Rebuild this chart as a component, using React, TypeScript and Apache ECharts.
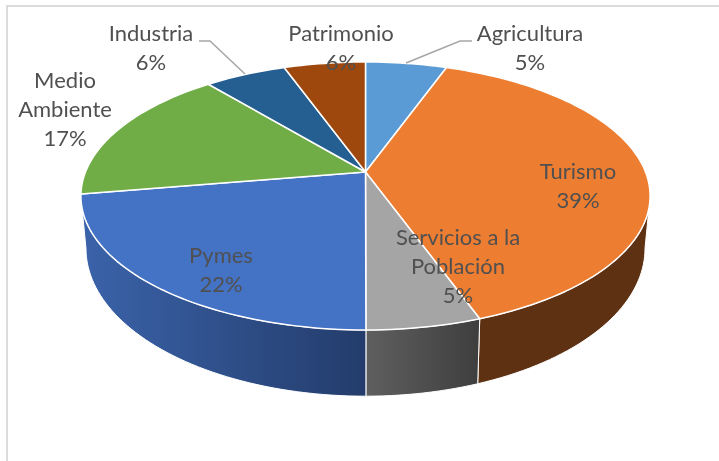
import React, { useEffect, useRef } from "react";
import * as echarts from "echarts";

const categories = ["Agricultura", "Turismo", "Servicios a la\nPoblación", "Pymes", "Medio\nAmbiente", "Industria", "Patrimonio"];
const shares = [5.49, 39.0, 5.49, 22.4, 16.6, 5.51, 5.51];
const topColors = ["#5b9bd5", "#ed7d31", "#a5a5a5", "#4472c4", "#70ad47", "#255e91", "#9e480e"];
const sideColors: (string | [string, string])[] = ["#3f6f9c", "#5e3113", ["#5f5f5f", "#3e3e3e"], ["#3b63aa", "#233c6b"], "#4a7a30", "#173d60", "#5e2b08"];
const labelCenters = [[530, 46.5], [578, 184.5], [458, 265], [221, 268.5], [65, 108.5], [151, 46.5], [341, 46.5]];
const leaderLines = [[[472, 41], [460, 41], [406, 63]], [[199, 41], [210, 41], [245, 74]]];

// Perspective projection of the pie's circular rims
const CX = 365.5;
const P = 0.179;
const topRim = { cy: 172, k: 129.7, a: 280 };
const bottomRim = { cy: 222, k: 143, a: 275 };
const WALL_START = 100.3;
const WALL_END = 259.7;

const project = (deg: number, rim: { cy: number; k: number; a: number }): number[] => {
  const t = (deg * Math.PI) / 180;
  const u = Math.sin(t);
  const v = -Math.cos(t);
  const w = 1 - P * v;
  return [CX + (rim.a * u) / w, rim.cy + (rim.k * v) / w];
};

const arc = (from: number, to: number, rim: { cy: number; k: number; a: number }) => {
  const n = Math.max(2, Math.ceil(Math.abs(to - from) / 1.5));
  const pts: number[][] = [];
  for (let i = 0; i <= n; i++) pts.push(project(from + ((to - from) * i) / n, rim));
  return pts;
};

const total = shares.reduce((a, b) => a + b, 0);
const spans: number[][] = [];
shares.reduce((acc, s) => {
  spans.push([(acc / total) * 360, ((acc + s) / total) * 360]);
  return acc + s;
}, 0);

const fillOf = (c: string | [string, string]) =>
  typeof c === "string"
    ? c
    : new echarts.graphic.LinearGradient(0, 0, 1, 0, [
        { offset: 0, color: c[0] },
        { offset: 1, color: c[1] },
      ]);

export default function App() {
  const ref = useRef<HTMLDivElement>(null);
  useEffect(() => {
    const chart = echarts.init(ref.current!, undefined, { renderer: "svg" });
    const rows = shares.map((s, i) => ({ name: categories[i], value: [s, i] }));
    chart.setOption({
      animation: false,
      backgroundColor: "#ffffff",
      graphic: [
        { type: "line", silent: true, shape: { x1: 7, y1: 6, x2: 719, y2: 6 }, style: { stroke: "#dcdcdc", lineWidth: 2 } },
        { type: "line", silent: true, shape: { x1: 7, y1: 5, x2: 7, y2: 461 }, style: { stroke: "#dcdcdc", lineWidth: 2 } },
      ],
      series: [
        {
          type: "custom",
          coordinateSystem: "none",
          silent: true,
          z: 1,
          data: rows,
          renderItem: (_p: any, api: any) => {
            const i = api.value(1);
            const from = Math.max(spans[i][0], WALL_START);
            const to = Math.min(spans[i][1], WALL_END);
            if (to <= from) return { type: "group", children: [] };
            const points = [...arc(from, to, topRim), ...arc(to, from, bottomRim)];
            return {
              type: "polygon",
              shape: { points },
              style: { fill: fillOf(sideColors[i]), stroke: "#ffffff", lineWidth: 1 },
            };
          },
        },
        {
          type: "custom",
          coordinateSystem: "none",
          silent: true,
          z: 2,
          data: rows,
          renderItem: (_p: any, api: any) => {
            const i = api.value(1);
            const points = [[CX, topRim.cy], ...arc(spans[i][0], spans[i][1], topRim)];
            return {
              type: "polygon",
              shape: { points },
              style: { fill: topColors[i], stroke: "#ffffff", lineWidth: 1.5, lineJoin: "round" },
            };
          },
        },
        {
          type: "custom",
          coordinateSystem: "none",
          silent: true,
          z: 3,
          data: leaderLines.map((_, i) => i),
          renderItem: (p: any) => ({
            type: "polyline",
            shape: { points: leaderLines[p.dataIndex] },
            style: { stroke: "#a6a6a6", lineWidth: 1.5, fill: "none" },
          }),
        },
        {
          type: "custom",
          coordinateSystem: "none",
          silent: true,
          z: 4,
          data: rows,
          renderItem: (_p: any, api: any) => {
            const i = api.value(1);
            return {
              type: "text",
              style: {
                text: `${categories[i]}\n${Math.round(shares[i])}%`,
                x: labelCenters[i][0],
                y: labelCenters[i][1],
                align: "center",
                verticalAlign: "middle",
                fontFamily: "Lato",
                fontSize: 22,
                lineHeight: 29,
                fill: "#505050",
              },
            };
          },
        },
      ],
    });
    return () => chart.dispose();
  }, []);
  return <div ref={ref} style={{ position: "absolute", left: 0, top: 0, width: 719, height: 461, filter: "blur(0.4px)" }} />;
}
